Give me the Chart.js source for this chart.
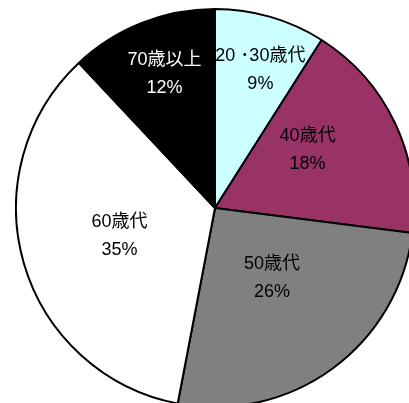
<!DOCTYPE html>
<html>
<head>
<meta charset="utf-8">
<script src="https://cdn.jsdelivr.net/npm/chart.js@4"></script>
<style>
    html, body {
        margin: 0;
        padding: 0;
        overflow: hidden;
        background: #fff;
        width: 409px;
        height: 403px;
    }
    #wrap {
        position: absolute;
        left: 15px;
        top: 8px;
        width: 400px;
        height: 400px;
    }
</style>
</head>
<body>
<div id="wrap"><canvas id="ages"></canvas></div>
<script>
const ageGroups = ['20 ･30歳代', '40歳代', '50歳代', '60歳代', '70歳以上'];
const shares = [9, 18, 26, 35, 12];

const sliceColors = ['#CCFFFF', '#993366', '#808080', '#FFFFFF', '#000000'];
const labelColors = ['#000', '#000', '#000', '#000', '#fff'];
// where each label sits: fraction of the radius and a small turn (degrees)
const labelDist = [0.73, 0.55, 0.455, 0.5, 0.72];
const labelTurn = [2, -7, -3, 0, 1];

const sliceLabels = {
    id: 'sliceLabels',
    afterDatasetsDraw(chart) {
        const ctx = chart.ctx;
        const meta = chart.getDatasetMeta(0);
        const total = shares.reduce((a, b) => a + b, 0);

        ctx.save();
        ctx.font = '18px "Liberation Sans", Arial, "Noto Sans CJK JP", sans-serif';
        ctx.textAlign = 'center';
        ctx.textBaseline = 'middle';

        meta.data.forEach((arc, i) => {
            const props = arc.getProps(['x', 'y', 'startAngle', 'endAngle', 'outerRadius']);
            const mid = (props.startAngle + props.endAngle) / 2 + labelTurn[i] * Math.PI / 180;
            const r = props.outerRadius * labelDist[i];
            const x = props.x + Math.cos(mid) * r;
            const y = props.y + Math.sin(mid) * r;
            const pct = Math.round(shares[i] / total * 100) + '%';

            ctx.fillStyle = labelColors[i];
            ctx.fillText(ageGroups[i], x, y - 14);
            ctx.fillText(pct, x, y + 14);
        });

        ctx.restore();
    }
};

new Chart(document.getElementById('ages'), {
    type: 'pie',
    data: {
        labels: ageGroups,
        datasets: [{
            data: shares,
            backgroundColor: sliceColors,
            borderColor: '#000',
            borderWidth: 2,
            borderAlign: 'center'
        }]
    },
    options: {
        responsive: true,
        maintainAspectRatio: false,
        animation: false,
        layout: { padding: 0 },
        plugins: {
            legend: { display: false },
            tooltip: { enabled: false }
        }
    },
    plugins: [sliceLabels]
});
</script>
</body>
</html>
